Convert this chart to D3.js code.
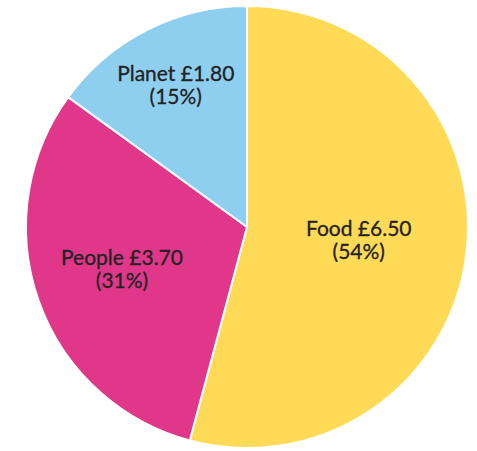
<!DOCTYPE html>
<html>
<head>
<meta charset="utf-8">
<script src="https://cdn.jsdelivr.net/npm/d3@7"></script>
<style>
  html, body { margin: 0; padding: 0; background: #fff; }
</style>
</head>
<body>
<div id="chart"></div>
<script>

const categories = ['Food', 'People', 'Planet'];
const amounts = [6.50, 3.70, 1.80];
const percentLabels = ['54%', '31%', '15%'];

const width = 477;
const height = 451;
const cx = 247, cy = 227, radius = 221;

// couleurs des parts
const colors = d3.scaleOrdinal()
  .domain(categories)
  .range(['#FFDA56', '#E0378A', '#8ECFF0']);

// distance des étiquettes (fraction du rayon)
const labelFactor = { Food: 0.51, People: 0.6, Planet: 0.71 };

const data = categories.map((c, i) => ({ name: c, value: amounts[i], pct: percentLabels[i] }));

const svg = d3.select('#chart')
  .append('svg')
  .attr('width', width)
  .attr('height', height);

const g = svg.append('g')
  .attr('transform', `translate(${cx}, ${cy})`);

const pie = d3.pie()
  .value(d => d.value)
  .sort(null);

const arc = d3.arc()
  .innerRadius(0)
  .outerRadius(radius);

const arcs = pie(data);

g.selectAll('path')
  .data(arcs)
  .join('path')
  .attr('d', arc)
  .attr('fill', d => colors(d.data.name))
  .attr('stroke', '#fff')
  .attr('stroke-width', 2)
  .attr('stroke-linejoin', 'round');

// étiquettes
const labels = g.selectAll('text')
  .data(arcs)
  .join('text')
  .attr('text-anchor', 'middle')
  .style('font', '21px Lato, "Open Sans", sans-serif')
  .style('fill', '#222')
  .style('stroke', '#222')
  .style('stroke-width', 0.3)
  .attr('transform', d => {
    const r = radius * labelFactor[d.data.name];
    const p = d3.arc().innerRadius(r).outerRadius(r).centroid(d);
    return `translate(${p[0]}, ${p[1]})`;
  });

labels.append('tspan')
  .attr('x', 0)
  .attr('y', -6)
  .text(d => `${d.data.name} £${d.data.value.toFixed(2)}`);

labels.append('tspan')
  .attr('x', 0)
  .attr('y', 17)
  .text(d => `(${d.data.pct})`);

</script>
</body>
</html>
